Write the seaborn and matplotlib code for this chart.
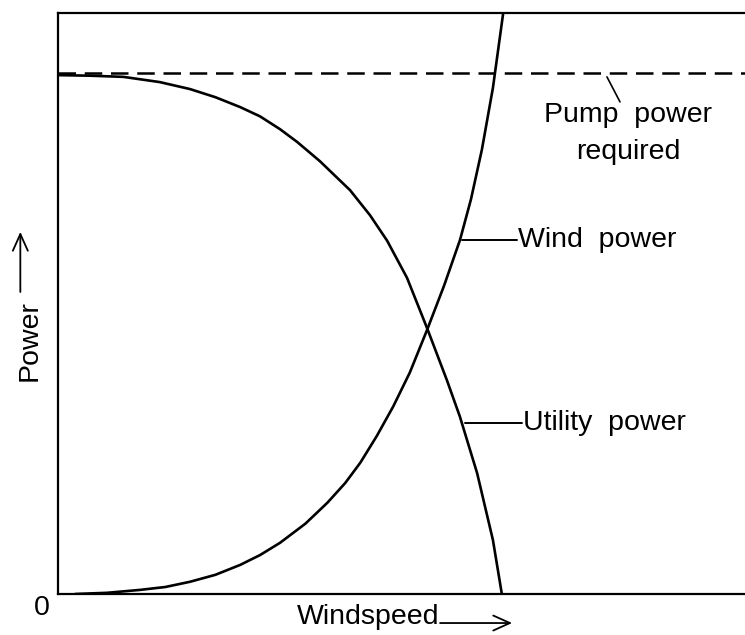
import matplotlib
matplotlib.use("Agg")
import matplotlib.pyplot as plt
import pandas as pd
import seaborn as sns

# values (arbitrary units, 0-10 on both axes)
utility_speed = [0.0, 0.47, 0.95, 1.48, 1.92, 2.29, 2.65, 2.94, 3.23, 3.48, 3.81, 4.25,
                 4.54, 4.79, 5.08, 5.37, 5.66, 5.85, 6.10, 6.33, 6.46]
utility_power = [8.93, 8.92, 8.90, 8.81, 8.69, 8.55, 8.38, 8.22, 8.00, 7.78, 7.45, 6.95,
                 6.52, 6.08, 5.44, 4.58, 3.68, 3.05, 2.08, 0.93, 0.0]

wind_speed = [0.25, 0.71, 1.19, 1.56, 1.92, 2.29, 2.65, 2.94, 3.23, 3.60, 3.92, 4.18,
              4.40, 4.64, 4.88, 5.12, 5.37, 5.62, 5.85, 6.01, 6.17, 6.33, 6.48]
wind_power = [0.0, 0.02, 0.07, 0.12, 0.21, 0.33, 0.50, 0.67, 0.88, 1.21, 1.57, 1.91,
              2.26, 2.72, 3.23, 3.81, 4.54, 5.31, 6.09, 6.79, 7.65, 8.71, 10.0]

pump_required = 8.97

df = pd.concat([
    pd.DataFrame({"speed": utility_speed, "power": utility_power, "curve": "Utility power"}),
    pd.DataFrame({"speed": wind_speed, "power": wind_power, "curve": "Wind power"}),
])

sns.set_theme(style="white")
plt.rcParams["font.family"] = ["Liberation Sans", "DejaVu Sans"]
plt.rcParams["text.color"] = "black"

fig = plt.figure(figsize=(7.45, 6.35), dpi=100)
ax = fig.add_axes([0.078, 0.0646, 0.922, 0.915])

sns.lineplot(data=df, x="speed", y="power", units="curve", estimator=None,
             sort=False, color="black", linewidth=1.9, ax=ax)
ax.axhline(pump_required, color="black", linewidth=1.8, dashes=(7, 3.5))

ax.set_xlim(0, 10)
ax.set_ylim(0, 10)
ax.set_xticks([])
ax.set_yticks([])
ax.set_xlabel("")
ax.set_ylabel("")
for side in ["top", "left", "bottom"]:
    ax.spines[side].set_color("black")
    ax.spines[side].set_linewidth(1.6)
ax.spines["right"].set_visible(False)

fs = 20.5
# curve labels with leader lines
ax.plot([5.88, 6.68], [6.09, 6.09], color="black", linewidth=1.4)
ax.text(6.70, 6.09, "Wind  power", fontsize=fs, va="center", ha="left")
ax.plot([5.92, 6.75], [2.94, 2.94], color="black", linewidth=1.4)
ax.text(6.77, 2.94, "Utility  power", fontsize=fs, va="center", ha="left")
ax.plot([7.99, 8.18], [8.90, 8.47], color="black", linewidth=1.2)
ax.text(8.30, 8.24, "Pump  power", fontsize=fs, va="center", ha="center")
ax.text(8.30, 7.61, "required", fontsize=fs, va="center", ha="center")

# axis captions
arrow = dict(arrowstyle="->,head_length=1.0,head_width=0.45", color="black", lw=1.3)
ax.text(-0.023, -0.024, "0", transform=ax.transAxes, fontsize=fs, ha="center", va="center")
ax.text(0.348, -0.04, "Windspeed", transform=ax.transAxes, fontsize=fs, ha="left", va="center")
ax.annotate("", xy=(0.665, -0.05), xytext=(0.552, -0.05), xycoords="axes fraction",
            arrowprops=arrow, annotation_clip=False)
ax.text(-0.042, 0.437, "Power", transform=ax.transAxes, fontsize=fs, rotation=90,
        ha="center", va="center")
ax.annotate("", xy=(-0.055, 0.628), xytext=(-0.055, 0.515), xycoords="axes fraction",
            arrowprops=arrow, annotation_clip=False)

fig.savefig("out.png", dpi=100)
